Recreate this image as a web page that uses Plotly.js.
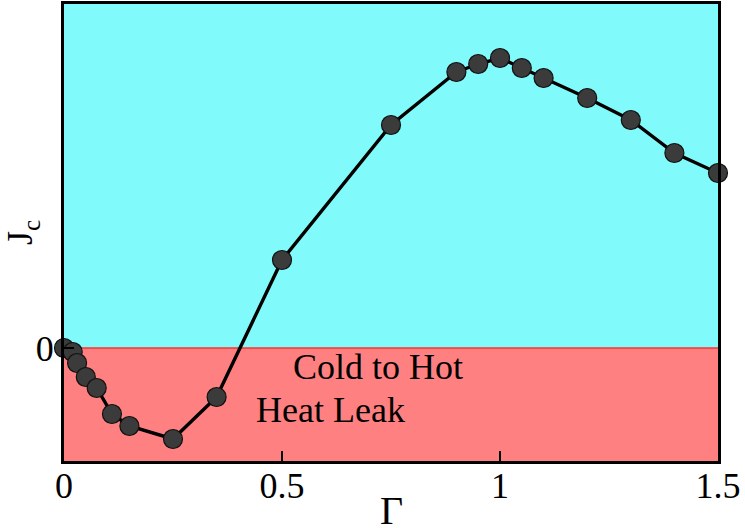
<!DOCTYPE html>
<html>
<head>
<meta charset="utf-8">
<script src="https://cdn.plot.ly/plotly-3.0.1.min.js"></script>
<style>html,body{margin:0;padding:0;background:#fff;}#chart{width:745px;height:528px;}</style>
</head>
<body>
<div id="chart"></div>
<script>
// Data (Gamma vs J_c, arbitrary units for J_c)
const gamma = [0, 0.02, 0.03, 0.05, 0.075, 0.11, 0.15, 0.25, 0.35, 0.5, 0.75, 0.9, 0.95, 1.0, 1.05, 1.1, 1.2, 1.3, 1.4, 1.5];
const jc    = [0, -0.04, -0.15, -0.29, -0.40, -0.66, -0.78, -0.91, -0.49, 0.88, 2.23, 2.76, 2.84, 2.90, 2.80, 2.70, 2.50, 2.28, 1.95, 1.75];
const xTickVals = [0, 0.5, 1, 1.5];
const xTickText = ['0', '0.5', '1', '1.5'];
const yTickVals = [0];
const yTickText = ['0'];
const xRange = [0, 1.5];
const yRange = [-1.13, 3.44];
const regionLabels = ['Cold to Hot', 'Heat Leak'];
const xTitle = 'Γ';
const yTitle = 'J<sub>c</sub>';

const serif = '"Liberation Serif", serif';

const trace = {
  x: gamma, y: jc, type: 'scatter', mode: 'lines+markers',
  line: {color: '#000', width: 3.4},
  marker: {size: 19, color: '#3b3b3b', line: {color: '#111', width: 1.2}},
  cliponaxis: false, hoverinfo: 'skip', showlegend: false
};

const layout = {
  width: 745, height: 528,
  margin: {l: 64, r: 27, t: 4, b: 67},
  paper_bgcolor: '#fff', plot_bgcolor: '#fff',
  font: {family: serif, color: '#000', size: 36},
  xaxis: {
    range: xRange, tickvals: xTickVals, ticktext: xTickText,
    ticks: 'inside', ticklen: 10, tickwidth: 2, tickcolor: '#000',
    ticklabelstandoff: -9,
    showline: true, linecolor: '#000', linewidth: 3, mirror: true,
    showgrid: false, zeroline: false,
    tickfont: {family: serif, size: 36, color: '#000'}
  },
  yaxis: {
    range: yRange, tickvals: yTickVals, ticktext: yTickText,
    ticks: 'inside', ticklen: 10, tickwidth: 2, tickcolor: '#000',
    showline: true, linecolor: '#000', linewidth: 3, mirror: true,
    showgrid: false, zeroline: false,
    tickfont: {family: serif, size: 36, color: '#000'},
    title: {text: yTitle, font: {family: serif, size: 36, color: '#000'}, standoff: 8}
  },
  shapes: [
    {type: 'rect', layer: 'below', xref: 'paper', x0: 0, x1: 1, yref: 'y', y0: 0, y1: yRange[1],
     fillcolor: '#80fafa', line: {width: 0}},
    {type: 'rect', layer: 'below', xref: 'paper', x0: 0, x1: 1, yref: 'y', y0: yRange[0], y1: 0,
     fillcolor: '#ff8080', line: {width: 0}},
    {type: 'line', layer: 'below', xref: 'paper', x0: 0, x1: 1, yref: 'y', y0: 0, y1: 0,
     line: {color: '#ff3030', width: 1.5}}
  ],
  annotations: [
    {text: regionLabels[0], x: 0.72, y: -0.19, xref: 'x', yref: 'y', showarrow: false,
     font: {family: serif, size: 36, color: '#000'}},
    {text: regionLabels[1], x: 0.611, y: -0.62, xref: 'x', yref: 'y', showarrow: false,
     font: {family: serif, size: 36, color: '#000'}},
    {text: xTitle, x: 0.5, y: 0, xref: 'paper', yref: 'paper', xanchor: 'center', yanchor: 'top',
     yshift: -25, showarrow: false, font: {family: serif, size: 40, color: '#000'}}
  ]
};

Plotly.newPlot('chart', [trace], layout, {displayModeBar: false, staticPlot: true});
</script>
</body>
</html>
